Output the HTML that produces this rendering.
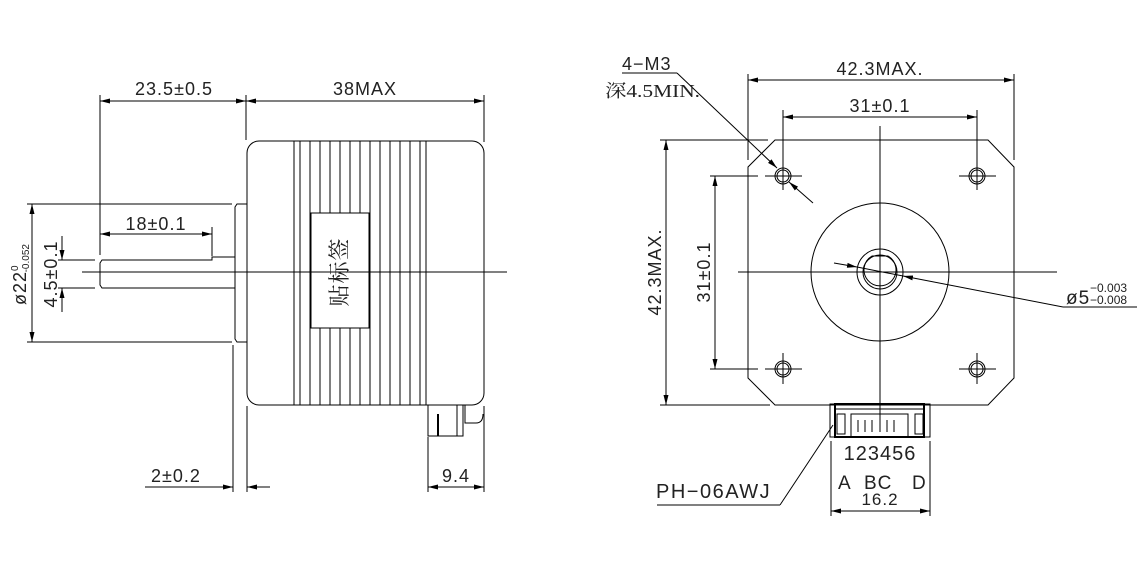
<!DOCTYPE html>
<html><head><meta charset="utf-8"><style>
html,body{margin:0;padding:0;background:#fff}
svg{display:block}
text{font-family:"Liberation Sans","Noto Sans CJK SC",sans-serif;fill:#222}
</style></head><body>
<svg width="1146" height="562" viewBox="0 0 1146 562" xmlns="http://www.w3.org/2000/svg">
<defs>
<marker id="a" viewBox="0 0 10 10" refX="10" refY="5" markerWidth="10" markerHeight="10" markerUnits="userSpaceOnUse" orient="auto-start-reverse"><path d="M0,2.5 L10,5 L0,7.5 z" fill="#000"/></marker>
</defs>
<g stroke="#000" stroke-width="1" fill="none">
<rect x="247" y="141" width="237" height="264" rx="12"/>
<g>
<line x1="294" y1="141" x2="294" y2="405"/><line x1="300" y1="141" x2="300" y2="405"/>
<line x1="310" y1="141" x2="310" y2="405"/><line x1="320" y1="141" x2="320" y2="405"/>
<line x1="330" y1="141" x2="330" y2="405"/><line x1="340" y1="141" x2="340" y2="405"/>
<line x1="350" y1="141" x2="350" y2="405"/><line x1="360" y1="141" x2="360" y2="405"/>
<line x1="370" y1="141" x2="370" y2="405"/><line x1="380" y1="141" x2="380" y2="405"/>
<line x1="390" y1="141" x2="390" y2="405"/><line x1="400" y1="141" x2="400" y2="405"/>
<line x1="410" y1="141" x2="410" y2="405"/><line x1="420" y1="141" x2="420" y2="405"/>
<line x1="426" y1="141" x2="426" y2="405"/>
</g>
<rect x="311" y="213" width="58" height="115" fill="#fff"/>
<path d="M247,204 L237,204 L235,207 L235,339 L237,342 L247,342"/>
<path d="M235,257 L212,257 L212,260 L102,260 L100,263 L100,285 L102,288 L235,288"/>
<line x1="82" y1="272" x2="507" y2="272"/>
<rect x="428" y="405" width="35" height="31"/>
<line x1="457" y1="405" x2="457" y2="436"/>
<path d="M465,405 L465,423 L476,423 Q483,423 483,414"/>
<line x1="438" y1="414" x2="438" y2="436" stroke-width="2"/>
<line x1="100" y1="95" x2="100" y2="255"/>
<line x1="246" y1="95" x2="246" y2="140"/>
<line x1="484" y1="95" x2="484" y2="142"/>
<line x1="100" y1="101" x2="246" y2="101" marker-start="url(#a)" marker-end="url(#a)"/>
<line x1="246" y1="101" x2="484" y2="101" marker-start="url(#a)" marker-end="url(#a)"/>
<line x1="212" y1="227" x2="212" y2="256"/>
<line x1="100" y1="234" x2="212" y2="234" marker-start="url(#a)" marker-end="url(#a)"/>
<line x1="27" y1="204" x2="232" y2="204"/>
<line x1="27" y1="342" x2="232" y2="342"/>
<line x1="32" y1="204" x2="32" y2="342" marker-start="url(#a)" marker-end="url(#a)"/>
<line x1="58" y1="260" x2="95" y2="260"/>
<line x1="58" y1="288" x2="95" y2="288"/>
<line x1="62" y1="236" x2="62" y2="260" marker-end="url(#a)"/>
<line x1="62" y1="312" x2="62" y2="288" marker-end="url(#a)"/>
<line x1="233" y1="345" x2="233" y2="492"/>
<line x1="247" y1="406" x2="247" y2="492"/>
<line x1="145" y1="487" x2="233" y2="487" marker-end="url(#a)"/>
<line x1="270" y1="487" x2="247" y2="487" marker-end="url(#a)"/>
<line x1="428" y1="437" x2="428" y2="492"/>
<line x1="484" y1="406" x2="484" y2="492"/>
<line x1="428" y1="487" x2="484" y2="487" marker-start="url(#a)" marker-end="url(#a)"/>

<path d="M775,140 L988,140 L1014,167 L1014,378 L988,405 L775,405 L748,378 L748,167 Z"/>
<circle cx="880" cy="272" r="69"/>
<circle cx="880" cy="272" r="23"/>
<path d="M872,256 L888,256 A16,16 0 1 1 872,256 Z"/>
<circle cx="880" cy="272" r="17"/>
<line x1="738" y1="272" x2="1057" y2="272"/>
<line x1="880" y1="126" x2="880" y2="425"/>
<g>
<circle cx="783" cy="176" r="8"/><circle cx="783" cy="176" r="6"/>
<circle cx="977" cy="176" r="8"/><circle cx="977" cy="176" r="6"/>
<circle cx="783" cy="369" r="8"/><circle cx="783" cy="369" r="6"/>
<circle cx="977" cy="369" r="8"/><circle cx="977" cy="369" r="6"/>
<line x1="765" y1="176" x2="802" y2="176"/><line x1="959" y1="176" x2="996" y2="176"/>
<line x1="765" y1="369" x2="802" y2="369"/><line x1="959" y1="369" x2="996" y2="369"/>
<line x1="783" y1="160" x2="783" y2="190"/><line x1="977" y1="160" x2="977" y2="190"/>
<line x1="783" y1="353" x2="783" y2="384"/><line x1="977" y1="353" x2="977" y2="384"/>
</g>
<line x1="748" y1="74" x2="748" y2="160"/>
<line x1="1014" y1="74" x2="1014" y2="160"/>
<line x1="748" y1="80" x2="1014" y2="80" marker-start="url(#a)" marker-end="url(#a)"/>
<line x1="783" y1="110" x2="783" y2="160"/>
<line x1="977" y1="110" x2="977" y2="160"/>
<line x1="783" y1="117" x2="977" y2="117" marker-start="url(#a)" marker-end="url(#a)"/>
<line x1="660" y1="140" x2="768" y2="140"/>
<line x1="660" y1="405" x2="770" y2="405"/>
<line x1="666" y1="140" x2="666" y2="405" marker-start="url(#a)" marker-end="url(#a)"/>
<line x1="710" y1="176" x2="758" y2="176"/>
<line x1="710" y1="369" x2="758" y2="369"/>
<line x1="715" y1="176" x2="715" y2="369" marker-start="url(#a)" marker-end="url(#a)"/>
<line x1="622" y1="73" x2="677" y2="73"/>
<line x1="677" y1="73" x2="777" y2="168" marker-end="url(#a)"/>
<line x1="813" y1="203" x2="789" y2="182" marker-end="url(#a)"/>
<line x1="834" y1="263" x2="857" y2="267" marker-end="url(#a)"/>
<line x1="1063" y1="307" x2="903" y2="276" marker-end="url(#a)"/>
<line x1="857" y1="267" x2="903" y2="276"/>
<line x1="1063" y1="307" x2="1137" y2="307"/>
<rect x="830" y="404" width="100" height="33"/>
<rect x="835" y="404" width="89" height="33" stroke-width="2"/>
<rect x="851" y="414" width="57" height="23"/>
<line x1="835" y1="409" x2="924" y2="409"/>
<rect x="837" y="414" width="8" height="20"/><rect x="915" y="414" width="8" height="20"/>
<line x1="858" y1="420" x2="858" y2="432"/><line x1="865" y1="420" x2="865" y2="432"/>
<line x1="872" y1="420" x2="872" y2="432"/><line x1="880" y1="420" x2="880" y2="432"/>
<line x1="887" y1="420" x2="887" y2="432"/><line x1="894" y1="420" x2="894" y2="432"/>
<line x1="831" y1="441" x2="831" y2="516"/>
<line x1="930" y1="441" x2="930" y2="516"/>
<line x1="831" y1="511" x2="930" y2="511" marker-start="url(#a)" marker-end="url(#a)"/>
<line x1="657" y1="505" x2="780" y2="505"/>
<line x1="780" y1="505" x2="833" y2="425"/>
</g>
<g font-size="18" letter-spacing="1">
<text x="174" y="95" text-anchor="middle">23.5±0.5</text>
<text x="365" y="95" text-anchor="middle">38MAX</text>
<text x="156" y="230" text-anchor="middle">18±0.1</text>
<text x="176" y="482" text-anchor="middle">2±0.2</text>
<text x="456" y="482" text-anchor="middle">9.4</text>
<text transform="translate(57,274) rotate(-90)" text-anchor="middle">4.5±0.1</text>
<text transform="translate(26,305) rotate(-90)">ø22<tspan font-size="10" dy="-8" letter-spacing="0">0</tspan><tspan font-size="10" dx="-7" dy="11" letter-spacing="0">-0.052</tspan></text>
<text transform="translate(347,272) rotate(-90)" text-anchor="middle" style="font-size:22px;font-family:'Noto Serif CJK SC',serif">贴标签</text>
<text x="880" y="75" text-anchor="middle">42.3MAX.</text>
<text x="880" y="112" text-anchor="middle">31±0.1</text>
<text transform="translate(661,272) rotate(-90)" text-anchor="middle">42.3MAX.</text>
<text transform="translate(710,272) rotate(-90)" text-anchor="middle">31±0.1</text>
<text x="622" y="70">4−M3</text>
<text x="1066" y="304" font-size="19">ø5</text>
<text x="1090" y="292" font-size="12" letter-spacing="0">−0.003</text>
<text x="1090" y="304" font-size="12" letter-spacing="0">−0.008</text>
<text x="880" y="460" text-anchor="middle" font-size="20" letter-spacing="1">123456</text>
<text x="838" y="489" font-size="19">A</text>
<text x="864" y="489" font-size="19">BC</text>
<text x="912" y="489" font-size="19">D</text>
<text x="880" y="505" text-anchor="middle" font-size="17">16.2</text>
<text x="656" y="498" font-size="20" letter-spacing="1.5">PH−06AWJ</text>
</g>
<text x="605" y="97" textLength="95" lengthAdjust="spacingAndGlyphs" style="font-size:18px;font-family:'Liberation Serif','Noto Serif CJK SC',serif">深4.5MIN.</text>
</svg>
</body></html>
